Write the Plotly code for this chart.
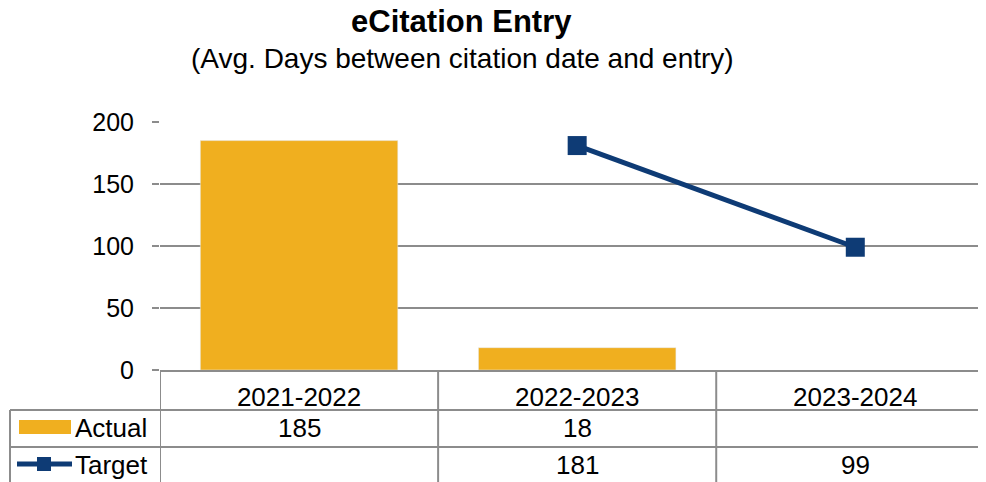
import plotly.graph_objects as go

# Dados
years = ["2021-2022", "2022-2023", "2023-2024"]
actual = [185, 18, None]
target = [None, 181, 99]

BAR_COLOR = "#F0AF1F"
LINE_COLOR = "#0E3B75"
GRID_COLOR = "#8C8C8C"
FONT = "Liberation Sans, Arial, sans-serif"

# A página tem margem de 8 px; a figura é reduzida para caber na janela
OFF = 8
W, H = 986, 482
L, T, B = 160, 122, 112   # área de plotagem, em pixels da janela
plot_w = W - L
plot_h = H - T - B


def px_x(x):
    return (x - L) / plot_w


def px_y(y):
    return (H - B - y) / plot_h


fig = go.Figure()

fig.add_trace(go.Bar(
    x=years, y=actual, name="Actual",
    marker_color=BAR_COLOR, width=0.71,
))
fig.add_trace(go.Scatter(
    x=years, y=target, name="Target", mode="lines+markers",
    line=dict(color=LINE_COLOR, width=5),
    marker=dict(symbol="square", size=19, color=LINE_COLOR),
    connectgaps=False,
))

shapes = []
line = dict(color=GRID_COLOR, width=2)
bottom = px_y(H + 5)

# Linhas verticais da tabela
shapes.append(dict(type="line", xref="x", yref="paper", x0=-0.5, x1=-0.5,
                   y0=0, y1=bottom, line=line))
for b in [0.5, 1.5]:
    shapes.append(dict(type="line", xref="x", yref="paper", x0=b, x1=b,
                       y0=0, y1=bottom, line=line))
shapes.append(dict(type="line", xref="paper", yref="paper", x0=px_x(10), x1=px_x(10),
                   y0=px_y(410), y1=bottom, line=line))
# Linhas horizontais da tabela
for yy in [410, 447]:
    shapes.append(dict(type="line", xref="paper", yref="paper", x0=px_x(10), x1=1,
                       y0=px_y(yy), y1=px_y(yy), line=line))

# Chaves da legenda dentro da tabela
shapes.append(dict(type="rect", xref="paper", yref="paper",
                   x0=px_x(19), x1=px_x(71), y0=px_y(420), y1=px_y(434),
                   fillcolor=BAR_COLOR, line=dict(width=0)))
shapes.append(dict(type="line", xref="paper", yref="paper",
                   x0=px_x(17), x1=px_x(72), y0=px_y(464), y1=px_y(464),
                   line=dict(color=LINE_COLOR, width=5)))
shapes.append(dict(type="rect", xref="paper", yref="paper",
                   x0=px_x(37), x1=px_x(51), y0=px_y(457), y1=px_y(471),
                   fillcolor=LINE_COLOR, line=dict(width=0)))

annotations = [
    dict(text="<b>eCitation Entry</b>", xref="paper", yref="paper",
         x=px_x(461), y=px_y(21), showarrow=False, xanchor="center", yanchor="middle",
         font=dict(size=31, color="black", family=FONT)),
    dict(text="(Avg. Days between citation date and entry)", xref="paper", yref="paper",
         x=px_x(462), y=px_y(58), showarrow=False, xanchor="center", yanchor="middle",
         font=dict(size=28, color="black", family=FONT)),
    dict(text="Actual", xref="paper", yref="paper", x=px_x(73), y=px_y(428),
         showarrow=False, xanchor="left", yanchor="middle",
         font=dict(size=26, color="black", family=FONT)),
    dict(text="Target", xref="paper", yref="paper", x=px_x(73), y=px_y(465),
         showarrow=False, xanchor="left", yanchor="middle",
         font=dict(size=26, color="black", family=FONT)),
]

rows = [(actual, 428), (target, 465)]
for values, yy in rows:
    for yr, v in zip(years, values):
        if v is None:
            continue
        annotations.append(dict(
            text=str(v), xref="x", yref="paper", x=yr, y=px_y(yy),
            showarrow=False, xanchor="center", yanchor="middle",
            font=dict(size=26, color="black", family=FONT)))

fig.update_layout(
    width=W - OFF, height=H - OFF,
    margin=dict(l=L - OFF, r=0, t=T - OFF, b=B),
    paper_bgcolor="white", plot_bgcolor="white",
    showlegend=False,
    font=dict(family=FONT, size=25, color="black"),
    shapes=shapes,
    annotations=annotations,
)

fig.update_xaxes(
    type="category", range=[-0.5, 2.47],
    showgrid=False, showline=True, linecolor=GRID_COLOR, linewidth=2,
    ticks="", ticklabelstandoff=3,
    tickfont=dict(size=26, color="black", family=FONT),
)
fig.update_yaxes(
    range=[0, 200], dtick=50, showgrid=True, gridcolor=GRID_COLOR, gridwidth=2,
    zeroline=False, showline=False,
    ticks="outside", ticklen=7, tickcolor=GRID_COLOR, tickwidth=2,
    ticklabelstandoff=13,
    tickfont=dict(size=25, color="black", family=FONT),
)

fig.write_html("out.html")
